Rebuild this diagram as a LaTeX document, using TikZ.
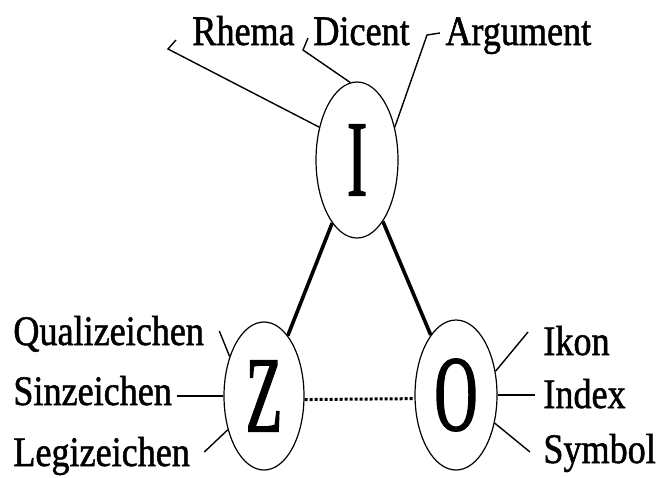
\documentclass[tikz,border=0pt]{standalone}
\usepackage{fontspec}
\setmainfont{Liberation Serif}
\newfontfamily\lblfont[FakeStretch=0.86, FakeBold=1.2]{Liberation Serif}
\newfontfamily\bigfont[FakeStretch=0.55, FakeBold=1.3]{Liberation Serif}
\usetikzlibrary{shapes.geometric}
\begin{document}
\begin{tikzpicture}[x = 0.5pt, y = -0.5pt,
	ell/.style = {draw, ellipse, line width = 0.6pt, inner sep = 0pt, font = \bigfont\fontsize{54}{54}\selectfont},
	lbl/.style = {inner sep = 0pt, font = \lblfont\fontsize{21}{21}\selectfont},
	leg/.style = {line width = 0.7pt}]
	\useasboundingbox (0,0) rectangle (656,477);
	% the three ellipses
	\node [ell, minimum width = 41pt, minimum height = 78pt] (I) at (357,160) {I};
	\node [ell, minimum width = 40pt, minimum height = 74pt] (Z) at (264,396) {Z};
	\node [ell, minimum width = 41pt, minimum height = 75pt] (O) at (456,395) {O};
	\draw [line width = 1.8pt] (I) -- (Z);
	\draw [line width = 1.8pt] (I) -- (O);
	\draw [line width = 1.5pt, dash pattern = on 1.5pt off 1pt] (Z.-5) -- (O.185);
	% top labels
	\node [lbl, anchor = base west] (rhema) at (192,45) {Rhema};
	\node [lbl, anchor = base west] (dicent) at (313,45) {Dicent};
	\node [lbl, anchor = base west] (argument) at (445,45) {Argument};
	\draw [leg] ([shift = {(-16,-5)}]rhema.base west) -- ++(-8,9) -- (I.139);
	\draw [leg] ([shift = {(-5,-7)}]dicent.base west) -- ++(-5,12) -- (I.95);
	\draw [leg] ([shift = {(-5,-12)}]argument.base west) -- ++(-13,2) -- (I.41);
	% left labels
	\node [lbl, anchor = base west] (quali) at (13,345) {Qualizeichen};
	\node [lbl, anchor = base west] (sin) at (13,405) {Sinzeichen};
	\node [lbl, anchor = base west] (legi) at (13,466) {Legizeichen};
	\draw [leg] ([shift = {(15,-14)}]quali.base east) -- (Z.131);
	\draw [leg] (Z.west) -- ([xshift = 2.5pt]Z.west -| sin.east);
	\draw [leg] ([shift = {(14,-14)}]legi.base east) -- (Z.223);
	% right labels
	\node [lbl, anchor = base west] (ikon) at (543,355) {Ikon};
	\node [lbl, anchor = base west] (index) at (543,408) {Index};
	\node [lbl, anchor = base west] (symbol) at (543,463) {Symbol};
	\draw [leg] (O.31) -- ([shift = {(-15,-23)}]ikon.base west);
	\draw [leg] (O.east) -- ([xshift = -4pt]O.east -| index.west);
	\draw [leg] (O.-36) -- ([shift = {(-13,-11)}]symbol.base west);
\end{tikzpicture}
\end{document}
